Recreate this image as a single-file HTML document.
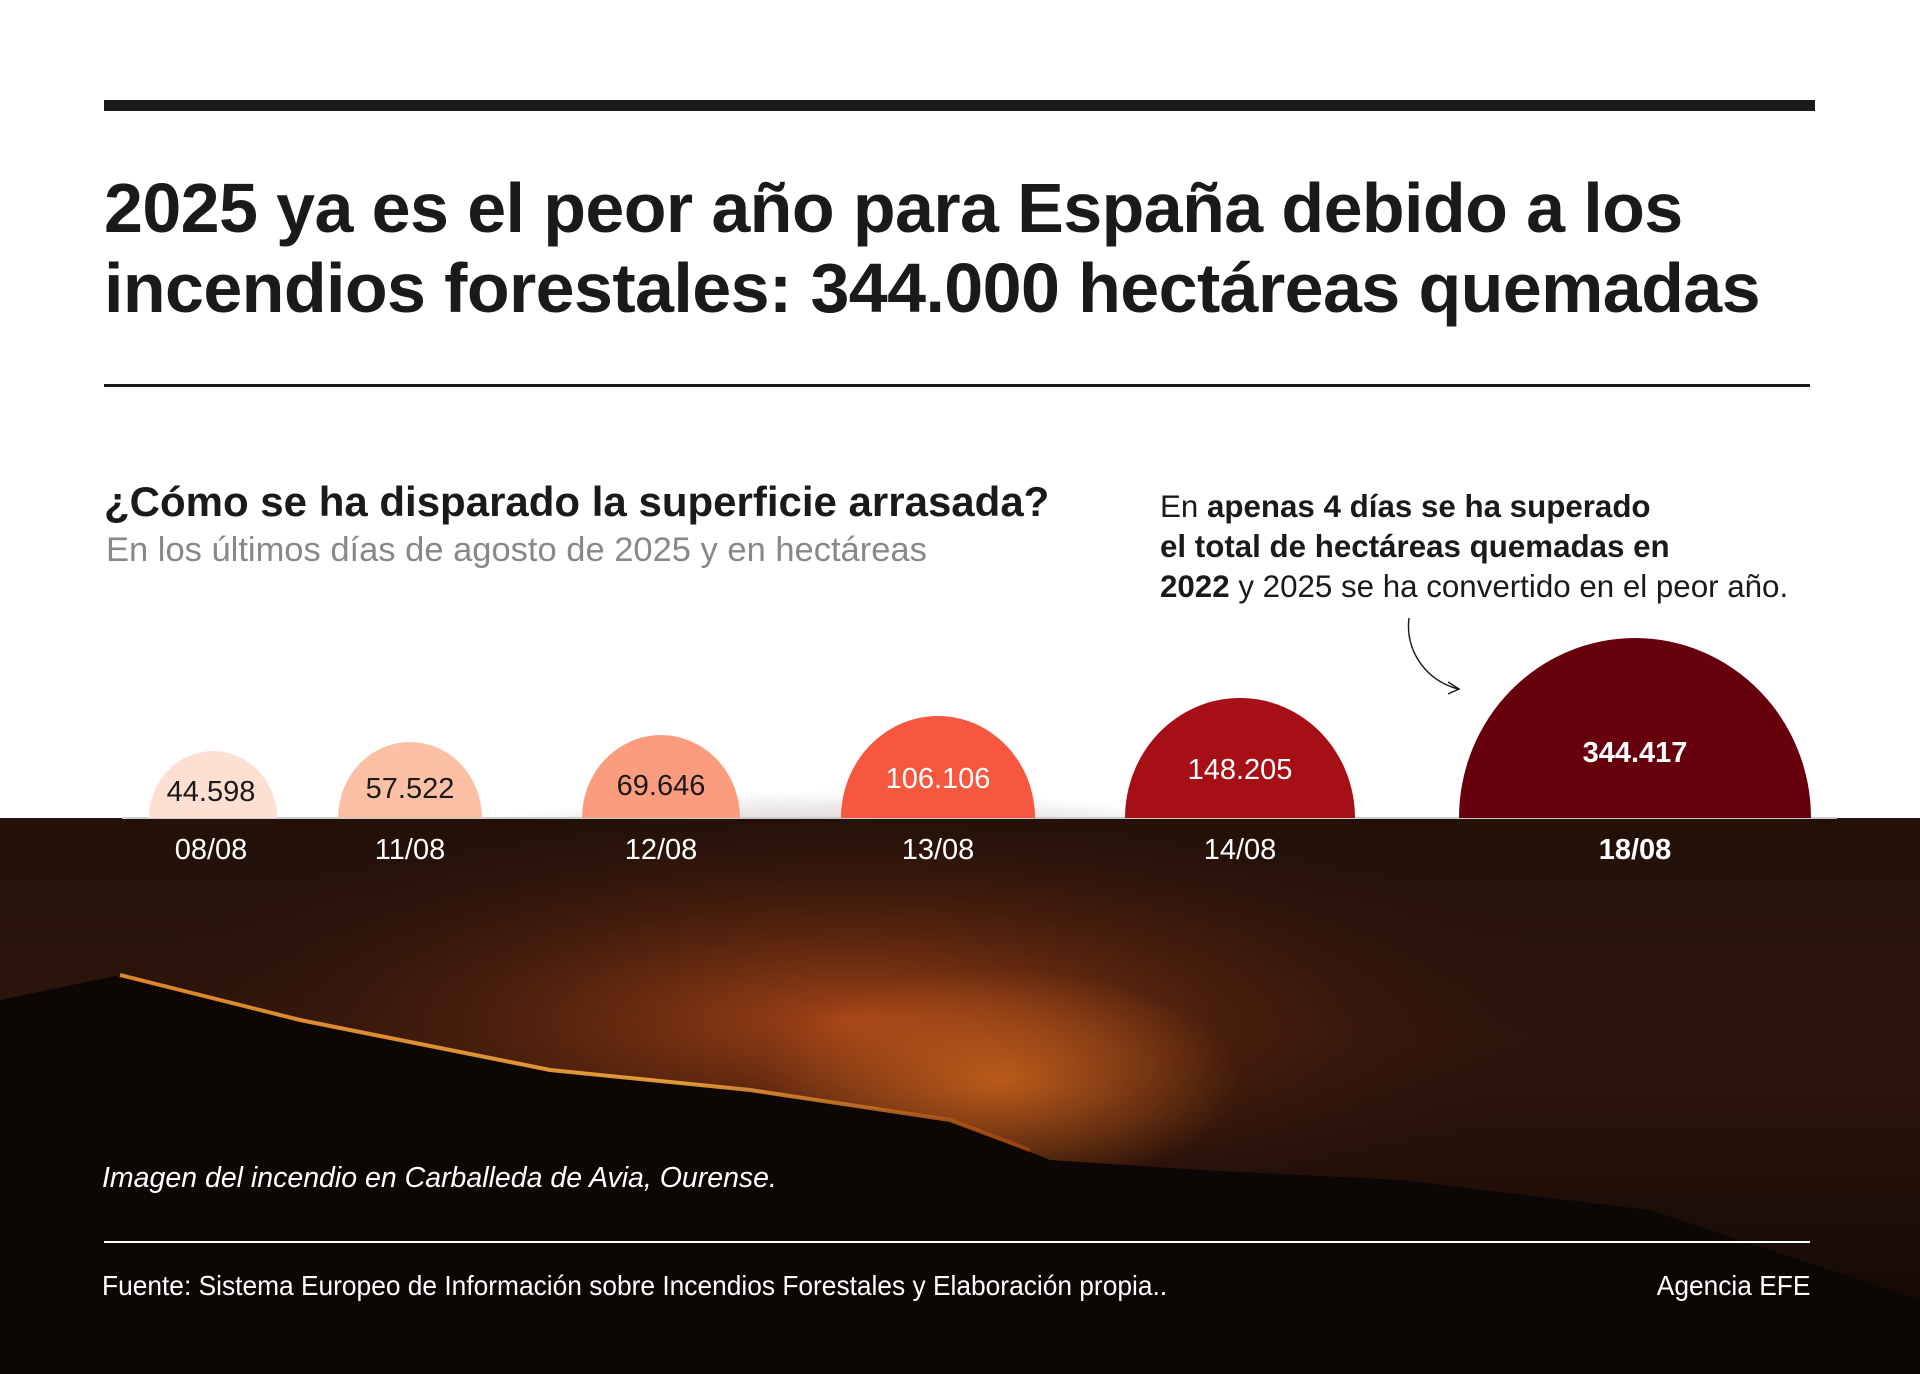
<!DOCTYPE html>
<html><head><meta charset="utf-8"><style>
body{margin:0;width:1920px;height:1374px;overflow:hidden;background:#fff;font-family:"Liberation Sans",sans-serif;position:relative}
.a{position:absolute;white-space:nowrap}
</style></head><body>
<div class="a" style="left:104px;top:100px;width:1711px;height:11px;background:#1a1a1a"></div>
<div class="a" style="left:104px;top:168px;font-size:70px;font-weight:bold;color:#1a1a1a;line-height:80px;letter-spacing:-0.6px">2025 ya es el peor año para España debido a los<br>incendios forestales: 344.000 hectáreas quemadas</div>
<div class="a" style="left:104px;top:384px;width:1706px;height:3px;background:#1a1a1a"></div>
<div class="a" style="left:104px;top:478px;font-size:42px;font-weight:bold;color:#1a1a1a">¿Cómo se ha disparado la superficie arrasada?</div>
<div class="a" style="left:106px;top:531px;font-size:34.5px;color:#888">En los últimos días de agosto de 2025 y en hectáreas</div>
<div class="a" style="left:1160px;top:487px;font-size:31.3px;color:#1a1a1a;line-height:40px">En <b>apenas 4 días se ha superado</b><br><b>el total de hectáreas quemadas en</b><br><b>2022</b> y 2025 se ha convertido en el peor año.</div>
<svg class="a" style="left:0;top:0" width="1920" height="1374">
<defs>
<radialGradient id="g1" cx="0.5" cy="0.5" r="0.5"><stop offset="0" stop-color="#b04818" stop-opacity="0.9"/><stop offset="0.5" stop-color="#5a240e" stop-opacity="0.6"/><stop offset="1" stop-color="#2a120a" stop-opacity="0"/></radialGradient>
<radialGradient id="g2" cx="0.5" cy="0.5" r="0.5"><stop offset="0" stop-color="#e07020" stop-opacity="0.7"/><stop offset="1" stop-color="#e07020" stop-opacity="0"/></radialGradient>
<linearGradient id="bg" x1="0" y1="0" x2="0" y2="1"><stop offset="0" stop-color="#221009"/><stop offset="0.4" stop-color="#2e150b"/><stop offset="1" stop-color="#100705"/></linearGradient>
<linearGradient id="fire" x1="0" y1="0" x2="1" y2="0"><stop offset="0" stop-color="#ff9a30"/><stop offset="0.6" stop-color="#ffb040"/><stop offset="1" stop-color="#a04010"/></linearGradient>
</defs>
<rect x="0" y="818" width="1920" height="556" fill="url(#bg)"/>
<ellipse cx="850" cy="1020" rx="750" ry="230" fill="url(#g1)"/>
<ellipse cx="1000" cy="1080" rx="240" ry="110" fill="url(#g2)"/>
<polygon points="0,1374 0,1000 120,975 300,1020 550,1070 750,1090 950,1120 1050,1160 1200,1170 1400,1180 1650,1210 1920,1300 1920,1374" fill="#0c0604"/>
<polyline points="120,975 300,1020 550,1070 750,1090 950,1120 1030,1150" fill="none" stroke="url(#fire)" stroke-width="4" opacity="0.85"/>
<rect x="122" y="817" width="1715" height="2" fill="#ccc"/>
<g>
<path d="M149,818 A64,67 0 0 1 277,818 Z" fill="#fde0d2"/>
<path d="M338,818 A72,76 0 0 1 482,818 Z" fill="#fcc0a5"/>
<path d="M582,818 A79,83 0 0 1 740,818 Z" fill="#fc9c7e"/>
<path d="M841,818 A97,102 0 0 1 1035,818 Z" fill="#f6573f"/>
<path d="M1125,818 A115,120 0 0 1 1355,818 Z" fill="#a50f15"/>
<path d="M1459,818 A176,180 0 0 1 1811,818 Z" fill="#67000d"/>
</g>
<g font-family="Liberation Sans" font-size="29" text-anchor="middle">
<text x="211" y="801" fill="#1a1a1a">44.598</text>
<text x="410" y="798" fill="#1a1a1a">57.522</text>
<text x="661" y="795" fill="#1a1a1a">69.646</text>
<text x="938" y="788" fill="#fff">106.106</text>
<text x="1240" y="779" fill="#fff">148.205</text>
<text x="1635" y="762" fill="#fff" font-weight="bold">344.417</text>
<g fill="#fff">
<text x="211" y="859">08/08</text><text x="410" y="859">11/08</text><text x="661" y="859">12/08</text>
<text x="938" y="859">13/08</text><text x="1240" y="859">14/08</text><text x="1635" y="859" font-weight="bold">18/08</text>
</g></g>
<path d="M1409,618 C1405,650 1425,680 1458,689" fill="none" stroke="#1a1a1a" stroke-width="1.5"/>
<path d="M1448,682 L1459,689 L1448,694" fill="none" stroke="#1a1a1a" stroke-width="1.5"/>
<rect x="104" y="1241" width="1706" height="2" fill="#fff"/>
</svg>
<div class="a" style="left:102px;top:1162px;font-size:28.5px;font-style:italic;color:#fff">Imagen del incendio en Carballeda de Avia, Ourense.</div>
<div class="a" style="left:102px;top:1270px;font-size:28px;color:#fff;transform:scaleX(0.94);transform-origin:left">Fuente: Sistema Europeo de Información sobre Incendios Forestales y Elaboración propia..</div>
<div class="a" style="right:110px;top:1270px;font-size:28px;color:#fff;transform:scaleX(0.94);transform-origin:right">Agencia EFE</div>
</body></html>
